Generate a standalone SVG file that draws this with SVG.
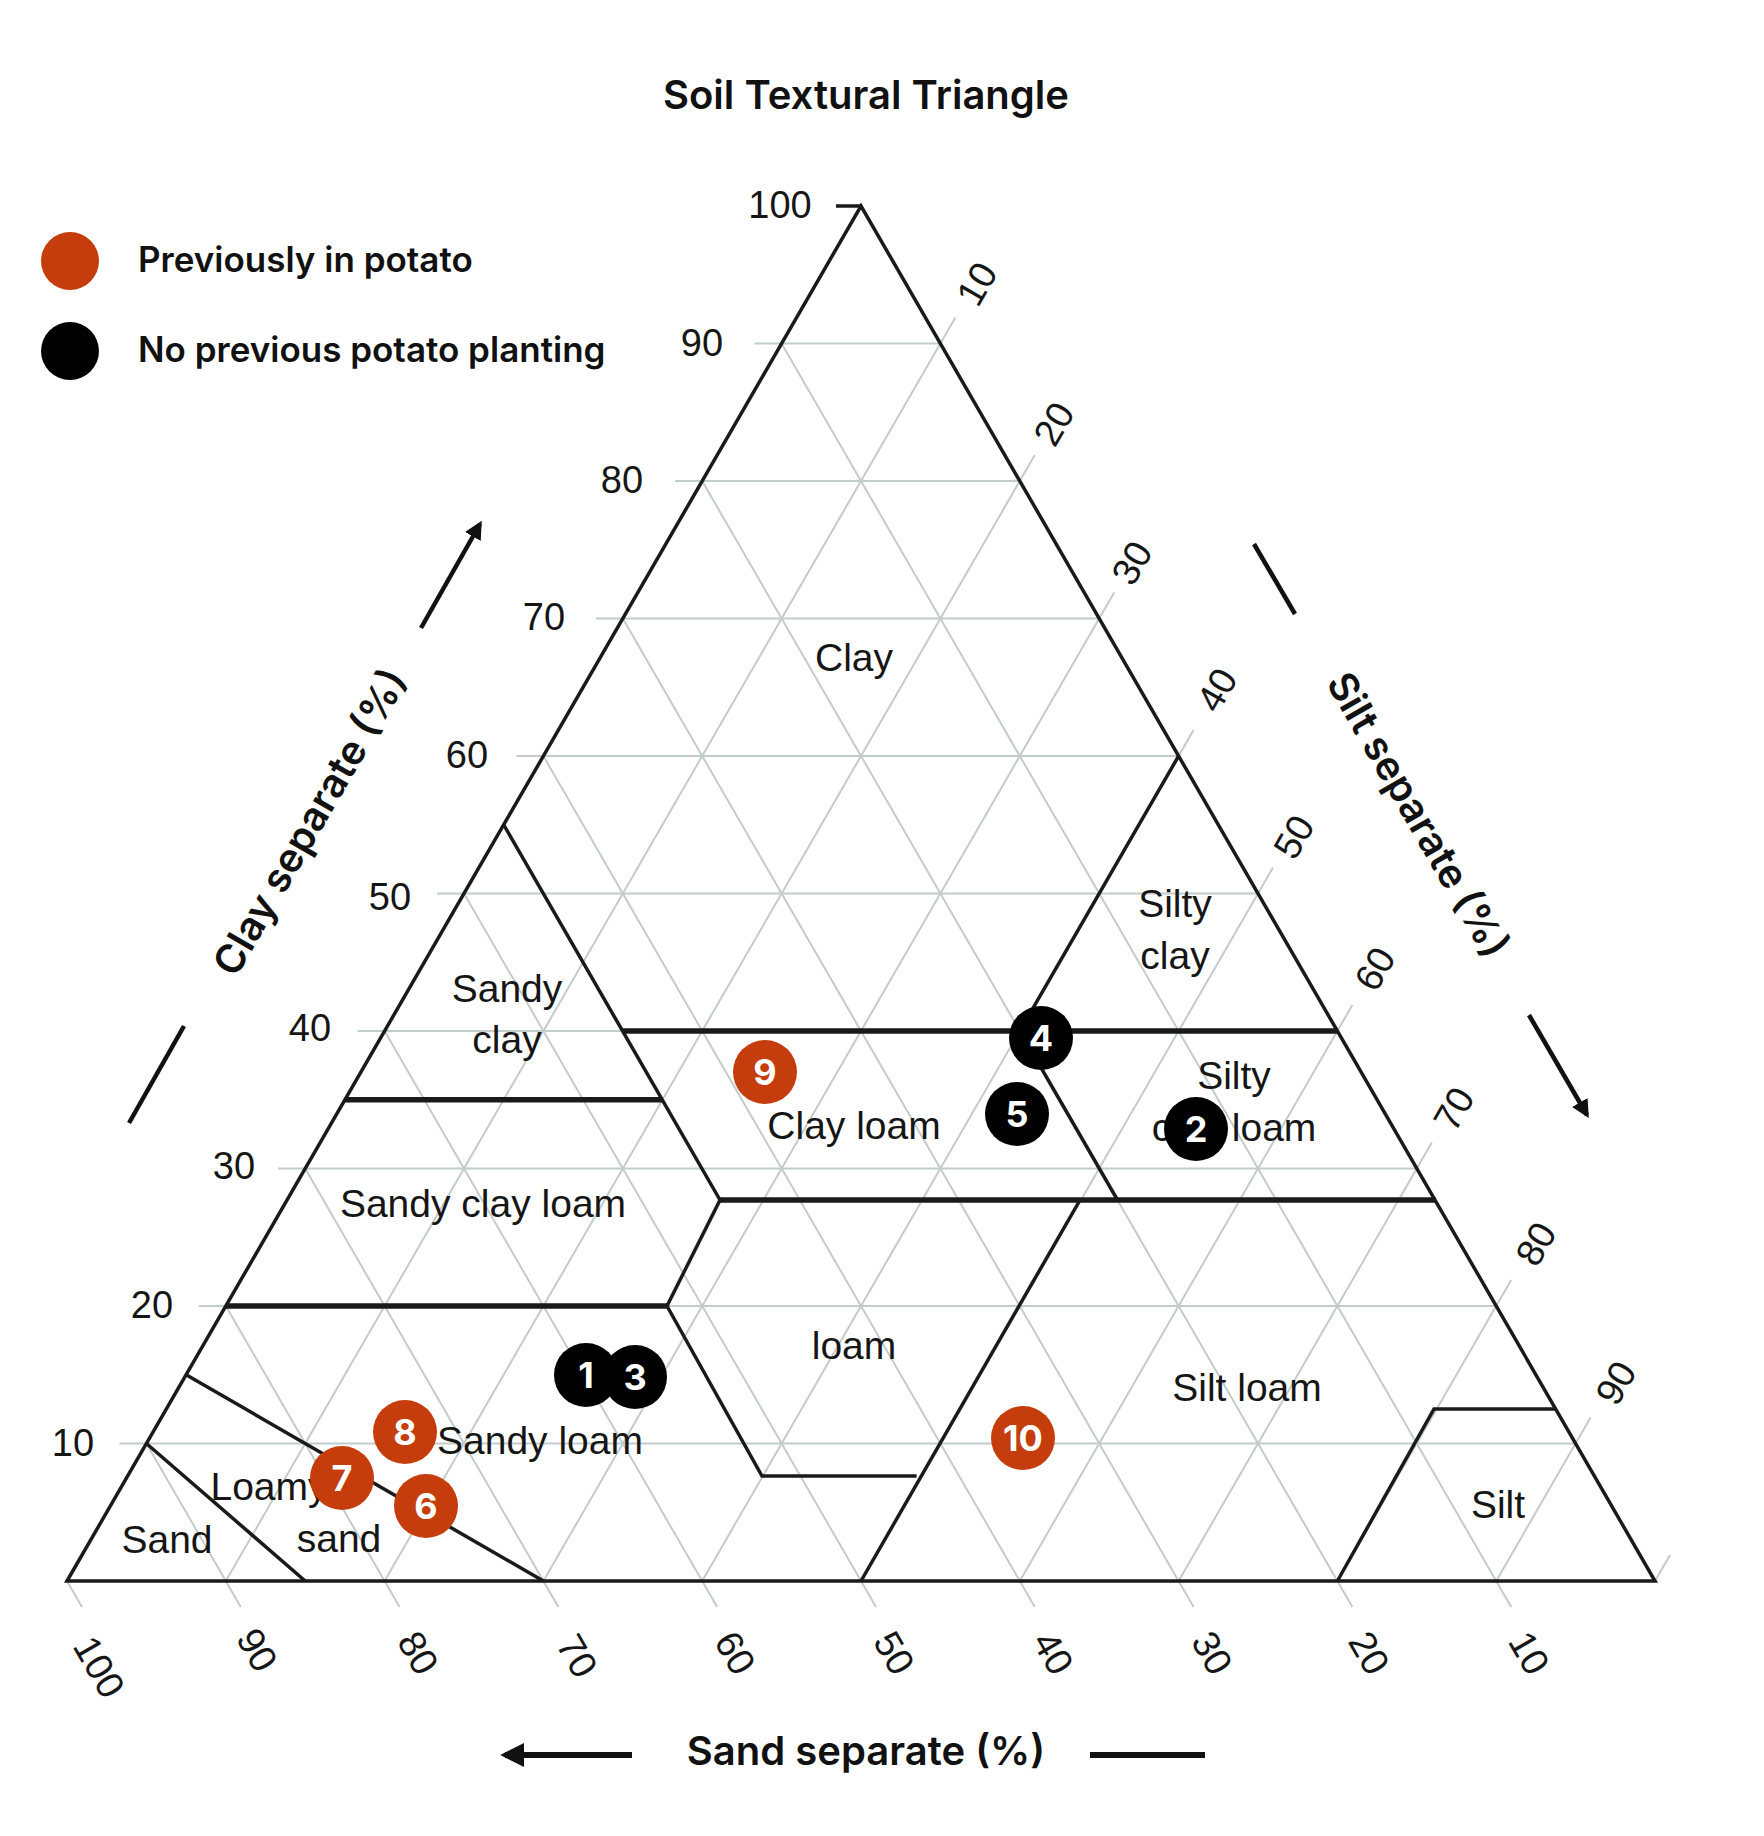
<svg xmlns="http://www.w3.org/2000/svg" width="1764" height="1836" viewBox="0 0 1764 1836">
<defs>
<marker id="ah" viewBox="0 0 10 10" refX="8" refY="5" markerWidth="4" markerHeight="4" orient="auto"><path d="M0,0 L10,5 L0,10 Z" fill="#111"/></marker>
<style>
.g{stroke:#c2cdcb;stroke-width:2;fill:none}
.b{stroke:#1a1a1a;stroke-width:3.5;fill:none}
.t{stroke:#1a1a1a;stroke-width:5.5;fill:none}
.lab{font-family:"Liberation Sans",Arial,sans-serif;font-size:39px;fill:#161616;text-anchor:middle}
.num{font-family:"Liberation Sans",Arial,sans-serif;font-size:38px;fill:#161616;text-anchor:middle}
.ttl{font-family:Inter,"Liberation Sans",sans-serif;font-weight:600;font-size:40px;fill:#111;text-anchor:middle}
.leg{font-family:Inter,"Liberation Sans",sans-serif;font-weight:600;font-size:35px;fill:#111}
.mk{font-family:Inter,"Liberation Sans",sans-serif;font-weight:700;font-size:36px;fill:#fff;text-anchor:middle}
.o{fill:#c53d0c}.k{fill:#000}
</style>
</defs>
<rect width="1764" height="1836" fill="#fff"/>
<text class="ttl" x="866" y="109">Soil Textural Triangle</text>
<g id="legend">
<circle class="o" cx="70" cy="261" r="29"/><text class="leg" x="138" y="272">Previously in potato</text>
<circle class="k" cx="70" cy="351" r="29"/><text class="leg" x="138" y="362">No previous potato planting</text>
</g>
<g id="grid">
<path class="g" d="M119.4,1443.5H1575.6M198.8,1306H1496.2M278.2,1168.5H1416.8M357.6,1031H1337.4M437,893.5H1258M516.4,756H1178.6M595.8,618.5H1099.2M675.2,481H1019.8M754.6,343.5H940.4"/>
<path class="g" d="M225.8,1581L955.4,317.5M384.6,1581L1034.8,455M543.4,1581L1114.2,592.5M702.2,1581L1193.6,730M861,1581L1273,867.5M1019.8,1581L1352.4,1005M1178.6,1581L1431.8,1142.5M1337.4,1581L1511.2,1280M1496.2,1581L1590.6,1417.5M1655,1581L1670,1555"/>
<path class="g" d="M781.6,343.5L1511.2,1607M702.2,481L1352.4,1607M622.8,618.5L1193.6,1607M543.4,756L1034.8,1607M464,893.5L876,1607M384.6,1031L717.2,1607M305.2,1168.5L558.4,1607M225.8,1306L399.6,1607M146.4,1443.5L240.8,1607M67,1581L82,1607"/>
</g>
<g id="triangle">
<path class="b" d="M67,1581L861,206L1655,1581Z"/>
<path class="b" d="M836,206H861" stroke-width="2.5"/>
</g>
<g id="boundaries">
<path class="b" d="M503.7,824.75L720,1200L667,1306L762,1476H916.6"/>
<path class="b" d="M1178.6,756L1019.8,1031L1117.5,1200"/>
<path class="b" d="M861,1581L1080,1200"/>
<path class="b" d="M1337.4,1581L1434,1409H1555"/>
<path class="b" d="M186.1,1374.75L543.4,1581M146.4,1443.5L305.2,1581"/>
<path class="t" d="M622.8,1031H1337.4M344.9,1099.75H662.5M720,1200H1436M225.8,1306H667"/>
</g>
<g id="axis-labels">
<text class="num" x="780" y="218">100</text><text class="num" x="702" y="356">90</text><text class="num" x="622" y="493">80</text><text class="num" x="544" y="630">70</text><text class="num" x="467" y="768">60</text><text class="num" x="390" y="910">50</text><text class="num" x="310" y="1041">40</text><text class="num" x="234" y="1179">30</text><text class="num" x="152" y="1318">20</text><text class="num" x="73" y="1456">10</text>
<g class="num">
<text transform="translate(977,284) rotate(-60)" y="13">10</text>
<text transform="translate(1054,424) rotate(-60)" y="13">20</text>
<text transform="translate(1132,563) rotate(-60)" y="13">30</text>
<text transform="translate(1217,690) rotate(-60)" y="13">40</text>
<text transform="translate(1294,837) rotate(-60)" y="13">50</text>
<text transform="translate(1375,969) rotate(-60)" y="13">60</text>
<text transform="translate(1454,1109) rotate(-60)" y="13">70</text>
<text transform="translate(1536,1244) rotate(-60)" y="13">80</text>
<text transform="translate(1616,1383) rotate(-60)" y="13">90</text>
<text transform="translate(99,1667) rotate(60)" y="13">100</text>
<text transform="translate(257,1650) rotate(60)" y="13">90</text>
<text transform="translate(418,1653) rotate(60)" y="13">80</text>
<text transform="translate(577,1656) rotate(60)" y="13">70</text>
<text transform="translate(735,1653) rotate(60)" y="13">60</text>
<text transform="translate(894,1653) rotate(60)" y="13">50</text>
<text transform="translate(1053,1653) rotate(60)" y="13">40</text>
<text transform="translate(1212,1653) rotate(60)" y="13">30</text>
<text transform="translate(1369,1653) rotate(60)" y="13">20</text>
<text transform="translate(1529,1653) rotate(60)" y="13">10</text>
</g>
<text class="ttl" transform="translate(310,822) rotate(-60)" y="14">Clay separate (%)</text>
<text class="ttl" transform="translate(1418,815) rotate(60)" y="14">Silt separate (%)</text>
<text class="ttl" x="866" y="1765">Sand separate (%)</text>
</g>
<g id="axis-arrows" stroke="#111" stroke-width="4.5" fill="none">
<path d="M421,628L480,524" marker-end="url(#ah)"/>
<path d="M184,1026L129,1123"/>
<path d="M1254,544L1295,614"/>
<path d="M1529,1015L1587,1115" marker-end="url(#ah)"/>
<path d="M632,1755H505" marker-end="url(#ah)" stroke-width="6"/>
<path d="M1090,1755H1205" stroke-width="6"/>
</g>
<g id="regions" class="lab">
<text x="854" y="671">Clay</text>
<text x="507" y="1002">Sandy</text><text x="507" y="1053">clay</text>
<text x="1175" y="917">Silty</text><text x="1175" y="969">clay</text>
<text x="854" y="1139">Clay loam</text>
<text x="1234" y="1089">Silty</text><text x="1234" y="1141">clay loam</text>
<text x="483" y="1217">Sandy clay loam</text>
<text x="854" y="1359">loam</text>
<text x="540" y="1454">Sandy loam</text>
<text x="269" y="1500">Loamy</text><text x="339" y="1552">sand</text>
<text x="167" y="1553">Sand</text>
<text x="1247" y="1401">Silt loam</text>
<text x="1498" y="1518">Silt</text>
</g>
<g id="markers">
<g><circle class="k" cx="586" cy="1375" r="32"/><text class="mk" x="586" y="1388">1</text></g>
<g><circle class="k" cx="635" cy="1377" r="32"/><text class="mk" x="635" y="1390">3</text></g>
<g><circle class="o" cx="405" cy="1432" r="32"/><text class="mk" x="405" y="1445">8</text></g>
<g><circle class="o" cx="342" cy="1478" r="32"/><text class="mk" x="342" y="1491">7</text></g>
<g><circle class="o" cx="426" cy="1506" r="32"/><text class="mk" x="426" y="1519">6</text></g>
<g><circle class="o" cx="765" cy="1072" r="32"/><text class="mk" x="765" y="1085">9</text></g>
<g><circle class="o" cx="1023" cy="1438" r="32"/><text class="mk" x="1023" y="1451">10</text></g>
<g><circle class="k" cx="1041" cy="1038" r="32"/><text class="mk" x="1041" y="1051">4</text></g>
<g><circle class="k" cx="1017" cy="1114" r="32"/><text class="mk" x="1017" y="1127">5</text></g>
<g><circle class="k" cx="1196" cy="1129" r="32"/><text class="mk" x="1196" y="1142">2</text></g>
</g>
</svg>
